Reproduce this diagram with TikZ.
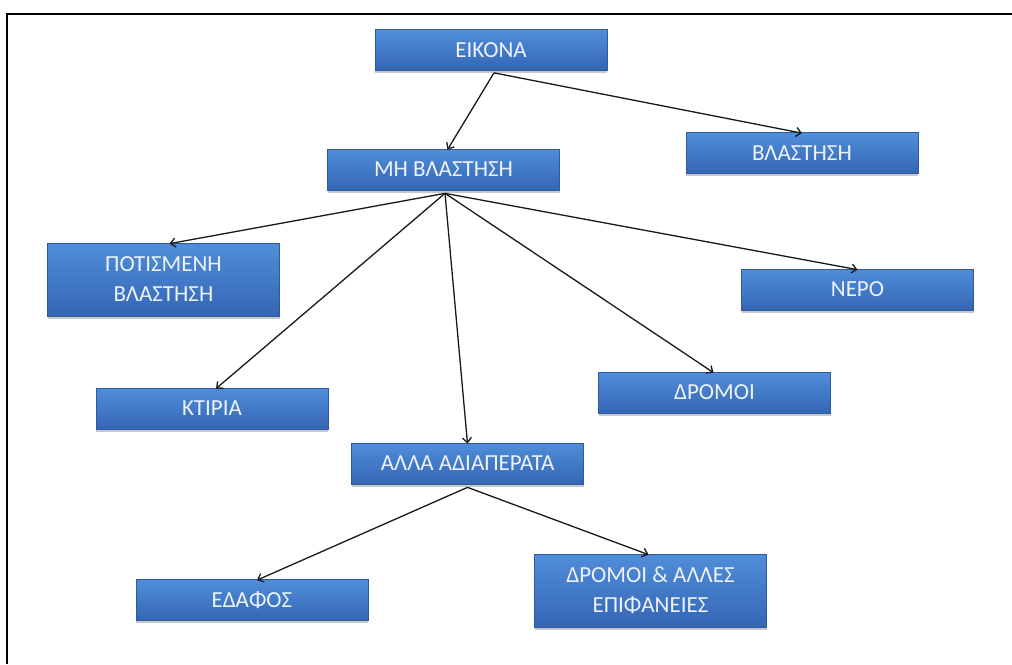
\documentclass[tikz,border=0pt]{standalone}
\usepackage{fontspec}
\setmainfont{Carlito}
\usetikzlibrary{arrows.meta,shadows}
\definecolor{boxtop}{RGB}{80,142,218}
\definecolor{boxbot}{RGB}{52,102,180}
\definecolor{boxedge}{RGB}{48,90,152}
\definecolor{txt}{RGB}{238,242,250}
\tikzset{
  box/.style={rectangle, draw=boxedge, line width=0.7pt,
    top color=boxtop, bottom color=boxbot,
    minimum width=232pt, minimum height=41pt, inner sep=2pt,
    text=txt, font=\fontsize{23}{30}\selectfont, align=center,
    drop shadow={shadow xshift=0pt, shadow yshift=-2.5pt, opacity=0.3, fill=black!70}},
  tallbox/.style={box, minimum height=73pt},
  conn/.style={draw=black!90, line width=1.3pt, -{Straight Barb[length=5pt,width=9pt]}},
}
\begin{document}
\begin{tikzpicture}[x=1pt,y=-1pt]
\useasboundingbox (0,0) rectangle (1012,664);
\fill[white] (0,0) rectangle (1012,664);
\draw[line width=2pt, black] (1012,14) -- (7,14) -- (7,664);

\node[box] (eikona) at (491,50) {\raisebox{-2pt}{ΕΙΚΟΝΑ}};
\node[box] (vlastisi) at (802,153) {\raisebox{-2pt}{ΒΛΑΣΤΗΣΗ}};
\node[box] (mhvl) at (443.5,169.5) {\raisebox{-2pt}{ΜΗ ΒΛΑΣΤΗΣΗ}};
\node[tallbox] (potism) at (163.5,279.5) {ΠΟΤΙΣΜΕΝΗ\\ΒΛΑΣΤΗΣΗ};
\node[box] (nero) at (857.5,289.5) {\raisebox{-2pt}{ΝΕΡΟ}};
\node[box] (ktiria) at (212,408.5) {\raisebox{-2pt}{ΚΤΙΡΙΑ}};
\node[box] (dromoi) at (714.5,392.5) {\raisebox{-2pt}{ΔΡΟΜΟΙ}};
\node[box] (alla) at (467.5,463.5) {\raisebox{-2pt}{ΑΛΛΑ ΑΔΙΑΠΕΡΑΤΑ}};
\node[box] (edafos) at (252,600) {\raisebox{-2pt}{ΕΔΑΦΟΣ}};
\node[tallbox] (dromoi2) at (650.5,590.5) {ΔΡΟΜΟΙ \& ΑΛΛΕΣ\\ΕΠΙΦΑΝΕΙΕΣ};

\draw[conn] ([xshift=3pt,yshift=-2pt]eikona.south) -- ([xshift=4pt,yshift=-1pt]mhvl.north);
\draw[conn] ([xshift=3pt,yshift=-2pt]eikona.south) -- ([yshift=-1pt]vlastisi.north);
\draw[conn] ([xshift=1.5pt,yshift=-3pt]mhvl.south) -- ([xshift=6pt,yshift=-1pt]potism.north);
\draw[conn] ([xshift=1.5pt,yshift=-3pt]mhvl.south) -- ([xshift=4pt,yshift=-1pt]ktiria.north);
\draw[conn] ([xshift=1.5pt,yshift=-3pt]mhvl.south) -- ([yshift=-1pt]alla.north);
\draw[conn] ([xshift=1.5pt,yshift=-3pt]mhvl.south) -- ([xshift=-1pt,yshift=-1pt]dromoi.north);
\draw[conn] ([xshift=1.5pt,yshift=-3pt]mhvl.south) -- ([yshift=-1pt]nero.north);
\draw[conn] ([yshift=-3pt]alla.south) -- ([xshift=5pt,yshift=-1pt]edafos.north);
\draw[conn] ([yshift=-3pt]alla.south) -- ([xshift=-2pt,yshift=-1pt]dromoi2.north);
\end{tikzpicture}
\end{document}
